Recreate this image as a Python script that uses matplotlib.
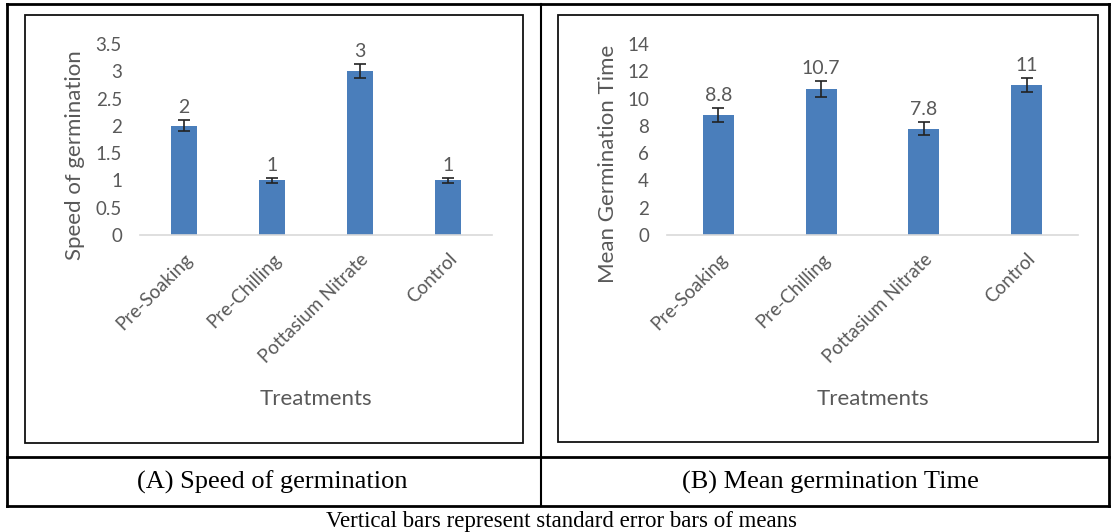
import matplotlib.pyplot as plt
from matplotlib.patches import Rectangle
from matplotlib.lines import Line2D

# Data
treatments = ['Pre-Soaking', 'Pre-Chilling', 'Pottasium Nitrate', 'Control']
speed = [2, 1, 3, 1]
speed_err = [0.1, 0.04, 0.13, 0.04]
mgt = [8.8, 10.7, 7.8, 11]
mgt_err = [0.5, 0.6, 0.45, 0.5]
speed_ticks = [0, 0.5, 1, 1.5, 2, 2.5, 3, 3.5]
mgt_ticks = [0, 2, 4, 6, 8, 10, 12, 14]

bar_col = '#4a7ebb'
txt_col = '#595959'
plt.rcParams['font.family'] = ['Lato', 'DejaVu Sans']

fig = plt.figure(figsize=(11.13, 5.32), dpi=100)
W, H = 1113, 532


def fx(px):
    return px / W


def fy(py):
    return 1 - py / H


def draw_chart(ax, vals, errs, ticks, ylabel):
    x = range(len(vals))
    ax.bar(x, vals, width=0.3, color=bar_col, zorder=2)
    ax.errorbar(x, vals, yerr=errs, fmt='none', ecolor='#222222',
                elinewidth=1.2, capsize=4, capthick=1.2, zorder=3)
    ax.set_xlim(-0.5, len(vals) - 0.5)
    ax.set_ylim(ticks[0], ticks[-1])
    ax.set_yticks(ticks)
    ax.set_yticklabels([f'{t:g}' for t in ticks], color=txt_col, fontsize=13.5)
    ax.set_xticks(list(x))
    ax.set_xticklabels(treatments, rotation=45, ha='right', va='top',
                       rotation_mode='anchor', color=txt_col, fontsize=13.5)
    ax.tick_params(axis='y', length=0, pad=13)
    ax.tick_params(axis='x', length=0, pad=11)
    for s in ['top', 'right', 'left']:
        ax.spines[s].set_visible(False)
    ax.spines['bottom'].set_color('#d9d9d9')
    ax.spines['bottom'].set_linewidth(1.2)
    ax.set_ylabel(ylabel, color=txt_col, fontsize=16, va='center')
    ax.set_xlabel('Treatments', color=txt_col, fontsize=16, va='center')
    ax.xaxis.set_label_coords(0.5, -0.86)
    ax.set_facecolor('none')
    # value labels above the error bars
    for i, (v, e) in enumerate(zip(vals, errs)):
        ax.annotate(f'{v:g}', (i, v + e), xytext=(0, 3), textcoords='offset points',
                    ha='center', va='bottom', color=txt_col, fontsize=14)


ax1 = fig.add_axes([fx(140), fy(235), fx(352), fy(44) - fy(235)])
draw_chart(ax1, speed, speed_err, speed_ticks, 'Speed of germination')
ax1.yaxis.set_label_coords(-0.185, 0.42)

ax2 = fig.add_axes([fx(667), fy(235), fx(411), fy(44) - fy(235)])
draw_chart(ax2, mgt, mgt_err, mgt_ticks, 'Mean Germination Time')
ax2.yaxis.set_label_coords(-0.144, 0.37)


# table frame
def line(x0, y0, x1, y1, lw=2.0):
    fig.add_artist(Line2D([fx(x0), fx(x1)], [fy(y0), fy(y1)], color='black',
                          lw=lw, solid_capstyle='projecting'))


line(7, 4, 1109, 4)
line(7, 506, 1109, 506)
line(7, 4, 7, 506)
line(1109, 4, 1109, 506)
line(541, 4, 541, 506, lw=1.5)
line(7, 457, 1109, 457)

# inner chart boxes
for (x0, y0, x1, y1) in [(25, 15, 523, 443), (558, 15, 1098, 442)]:
    fig.add_artist(Rectangle((fx(x0), fy(y1)), fx(x1 - x0), fy(y0) - fy(y1),
                             fill=False, edgecolor='#111111', lw=1.3))

fig.text(fx(272), fy(482), '(A) Speed of germination', ha='center', va='center',
         family='Liberation Serif', fontsize=19)
fig.text(fx(830), fy(482), '(B) Mean germination Time', ha='center', va='center',
         family='Liberation Serif', fontsize=19)
fig.text(fx(562), fy(521), 'Vertical bars represent standard error bars of means',
         ha='center', va='center', family='Liberation Serif', fontsize=16.5)

fig.savefig('out.png', dpi=100)
